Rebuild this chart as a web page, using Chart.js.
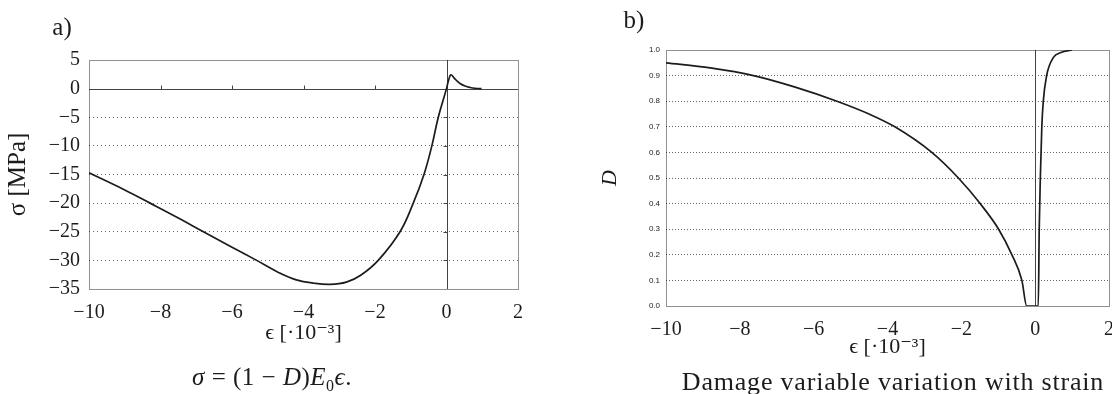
<!DOCTYPE html>
<html lang="en">
<head>
  <meta charset="UTF-8">
  <title>Stress and damage vs strain</title>
  <script src="https://cdn.jsdelivr.net/npm/chart.js"></script>
  <style>
    html, body { margin: 0; padding: 0; background: #fff; overflow: hidden; }
    body { width: 1112px; height: 394px; position: relative; font-family: "Liberation Serif", "DejaVu Serif", serif; color: #1c1c1c; }
    .box { position: absolute; top: 0; }
    .txt { position: absolute; white-space: nowrap; transform: translate(-50%, -50%); }
  </style>
</head>
<body>
  <div class="box" style="left:0"><canvas id="chartA" width="545" height="394"></canvas></div>
  <div class="box" style="left:545px"><canvas id="chartB" width="580" height="394"></canvas></div>

  <div class="txt" style="left:62px; top:27px; font-size:25px">a)</div>
  <div class="txt" style="left:634px; top:20px; font-size:25px">b)</div>
  <div class="txt" style="left:272px; top:379px; font-size:25px; letter-spacing:0.5px"><i>σ</i> = (1 − <i>D</i>)<i>E</i><sub style="font-size:16px">0</sub><i>ϵ</i>.</div>
  <div class="txt" style="left:893px; top:382px; font-size:26px; letter-spacing:0.8px">Damage variable variation with strain</div>

  <script>
    // a) stress vs strain (strain in 1e-3, stress in MPa)
    const strainA = [-10, -9, -8.29, -7.5, -6.8, -6, -5.31, -4.7, -4.2, -3.7, -3.26, -2.8, -2.4, -1.91, -1.3, -0.93, -0.63, -0.41, -0.23, 0, 0.06, 0.126, 0.25, 0.38, 0.52, 0.66, 0.8, 0.98];
    const stressA = [-14.7, -17.7, -20, -22.6, -25, -27.7, -30, -32.1, -33.4, -34.0, -34.2, -33.8, -32.6, -30, -25, -20, -15, -10, -5, 0, 1.5, 2.4, 1.6, 0.9, 0.45, 0.2, 0.07, 0];

    // b) damage variable vs strain
    const strainB = [-10, -8.8, -7.63, -6.5, -5.37, -4.5, -3.8, -2.8, -2.08, -1.49, -0.99, -0.63, -0.36, -0.23, 0.084, 0.11, 0.14, 0.18, 0.22, 0.31, 0.49, 0.7, 1.0];
    const damageB = [0.95, 0.93, 0.9, 0.855, 0.8, 0.75, 0.7, 0.6, 0.5, 0.4, 0.3, 0.2, 0.1, 0, 0, 0.3, 0.5, 0.7, 0.8, 0.9, 0.97, 0.99, 1.0];

    const serif = '"Liberation Serif", "DejaVu Serif", serif';
    const ink = '#1c1c1c';
    const minus = v => String(v).replace('-', '\u2212');

    // solid zero lines (with small ticks) + dotted frame round the plot
    const frame = {
      id: 'frame',
      beforeDatasetsDraw(chart, args, opts) {
        const { ctx, chartArea: a, scales } = chart;
        ctx.save();
        ctx.strokeStyle = '#444';
        ctx.lineWidth = 1;
        ctx.beginPath();
        const x0 = Math.round(scales.x.getPixelForValue(0)) + 0.5;
        ctx.moveTo(x0, a.top);
        ctx.lineTo(x0, a.bottom);
        if (opts.zeroY) {
          const y0 = Math.round(scales.y.getPixelForValue(0)) + 0.5;
          ctx.moveTo(a.left, y0);
          ctx.lineTo(a.right, y0);
          scales.x.ticks.forEach(t => {
            if (t.value <= scales.x.min || t.value >= scales.x.max || t.value === 0) return;
            const px = Math.round(scales.x.getPixelForValue(t.value)) + 0.5;
            ctx.moveTo(px, y0);
            ctx.lineTo(px, y0 - 4);
          });
          scales.y.ticks.forEach(t => {
            if (t.value <= scales.y.min || t.value >= scales.y.max || t.value === 0) return;
            const py = Math.round(scales.y.getPixelForValue(t.value)) + 0.5;
            ctx.moveTo(x0 - 4, py);
            ctx.lineTo(x0, py);
          });
        }
        ctx.stroke();
        ctx.setLineDash([1, 1]);
        ctx.strokeStyle = '#222';
        ctx.strokeRect(Math.round(a.left) + 0.5, Math.round(a.top) + 0.5, Math.round(a.right - a.left), Math.round(a.bottom - a.top));
        ctx.restore();
      }
    };

    function pts(xs, ys) {
      return xs.map((x, i) => ({ x: x, y: ys[i] }));
    }

    new Chart(document.getElementById('chartA'), {
      type: 'line',
      data: {
        datasets: [{
          data: pts(strainA, stressA),
          borderColor: ink,
          borderWidth: 1.7,
          pointRadius: 0,
          tension: 0.4
        }]
      },
      plugins: [frame],
      options: {
        responsive: false,
        animation: false,
        events: [],
        layout: { padding: { left: 0, top: 60, right: 27, bottom: 48 } },
        plugins: { legend: { display: false }, tooltip: { enabled: false }, frame: { zeroY: true } },
        scales: {
          x: {
            type: 'linear', min: -10, max: 2,
            afterFit: s => { s.height = 57; },
            grid: { display: false },
            border: { display: false },
            ticks: { stepSize: 2, padding: 4, color: ink, font: { family: serif, size: 20 }, callback: minus },
            title: { display: true, text: 'ϵ [·10⁻³]', color: ink, font: { family: serif, size: 22 }, padding: 0 }
          },
          y: {
            min: -35, max: 5,
            afterFit: s => { s.width = 89; },
            grid: {
              drawTicks: false,
              color: c => (c.tick && c.tick.value > -35 && c.tick.value < 0) ? '#666' : 'rgba(0,0,0,0)'
            },
            border: { display: false, dash: [1, 3] },
            ticks: { stepSize: 5, padding: 9, color: ink, font: { family: serif, size: 20 }, callback: minus },
            title: { display: true, text: 'σ [MPa]', color: ink, font: { family: serif, size: 25 }, padding: { top: 3, bottom: 0 } }
          }
        }
      }
    });

    new Chart(document.getElementById('chartB'), {
      type: 'line',
      data: {
        datasets: [{
          data: pts(strainB, damageB),
          borderColor: ink,
          borderWidth: 1.7,
          pointRadius: 0,
          cubicInterpolationMode: 'monotone'
        }]
      },
      plugins: [frame],
      options: {
        responsive: false,
        animation: false,
        events: [],
        layout: { padding: { left: 0, top: 50, right: 16, bottom: 34 } },
        plugins: { legend: { display: false }, tooltip: { enabled: false }, frame: { zeroY: false } },
        scales: {
          x: {
            type: 'linear', min: -10, max: 2,
            afterFit: s => { s.height = 54; },
            grid: { display: false },
            border: { display: false },
            ticks: { stepSize: 2, padding: 4, color: ink, font: { family: serif, size: 20 }, callback: minus },
            title: { display: true, text: 'ϵ [·10⁻³]', color: ink, font: { family: serif, size: 22 }, padding: 0 }
          },
          y: {
            min: 0, max: 1,
            afterFit: s => { s.width = 121; },
            grid: {
              drawTicks: false,
              color: c => (c.tick && c.tick.value > 0.01 && c.tick.value < 0.99) ? '#666' : 'rgba(0,0,0,0)'
            },
            border: { display: false, dash: [1, 2] },
            ticks: { stepSize: 0.1, padding: 6, color: ink, font: { family: '"Liberation Sans", sans-serif', size: 8 }, callback: v => v.toFixed(1) },
            title: { display: true, text: 'D', color: ink, font: { family: serif, size: 22, style: 'italic' }, padding: { top: 52, bottom: 0 } }
          }
        }
      }
    });
  </script>
</body>
</html>
